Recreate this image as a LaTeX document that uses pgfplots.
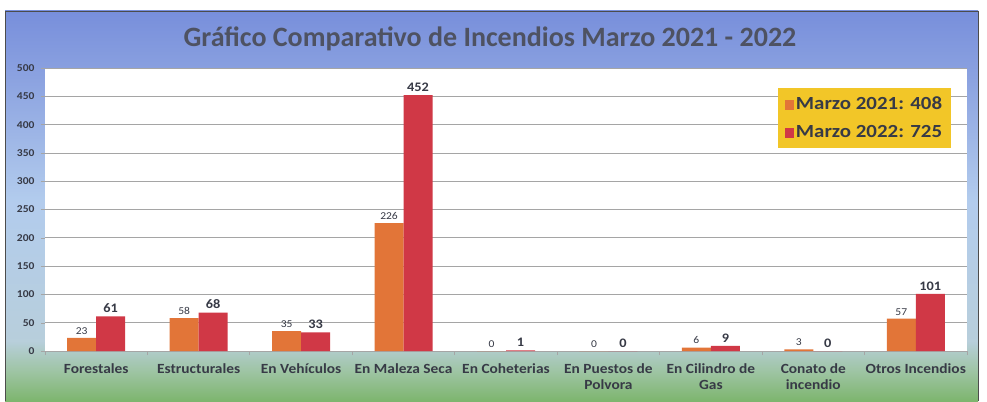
\documentclass[border=0pt]{standalone}
\usepackage{pgfplots}
\pgfplotsset{compat=1.18}
\usepackage{fontspec}
\setmainfont{Carlito}
\newfontfamily\sfont[FakeStretch=1.1]{Carlito}
\newfontfamily\lfont[FakeStretch=1.13]{Carlito}
\definecolor{c21}{RGB}{226,117,56}
\definecolor{c22}{RGB}{208,56,70}
\definecolor{txt}{RGB}{55,58,70}
\definecolor{legy}{RGB}{242,198,40}
\definecolor{gridc}{RGB}{165,165,165}
\pgfdeclareverticalshading{bgshade}{100bp}{
  rgb(0bp)=(0.49,0.71,0.43);
  rgb(25bp)=(0.49,0.71,0.43);
  rgb(28.8bp)=(0.62,0.77,0.64);
  rgb(32.7bp)=(0.72,0.81,0.86);
  rgb(50.6bp)=(0.70,0.80,0.93);
  rgb(66bp)=(0.55,0.64,0.88);
  rgb(75bp)=(0.47,0.56,0.86);
  rgb(100bp)=(0.47,0.56,0.86)}
\begin{document}
\begin{tikzpicture}[x=1pt,y=1pt]
\path (0,0) rectangle (987,401);
\shade[shading=bgshade] (5,0) rectangle (978,390);
\draw[black!70,line width=0.8pt] (5,0) -- (5,390) -- (978,390) -- (978,0);
\node[font=\bfseries\fontsize{28}{30}\selectfont, text={rgb,255:red,78;green,82;blue,98}] at (490,362) {Gráfico Comparativo de Incendios Marzo 2021 - 2022};
\begin{axis}[
  at={(45pt,50pt)}, anchor=south west,
  scale only axis, width=922pt, height=283pt,
  axis background/.style={fill=white},
  ybar=0pt, bar width=29pt,
  xmin=-0.5, xmax=8.5, ymin=0, ymax=500,
  ytick={0,50,...,500},
  xtick={0,...,8},
  xticklabels={Forestales,Estructurales,En Vehículos,En Maleza Seca,En Coheterias,En Puestos de\\Polvora,En Cilindro de\\Gas,Conato de\\incendio,Otros Incendios},
  minor xtick={-0.5,0.5,...,8.5},
  major x tick style={draw=none},
  minor x tick style={gridc, thick},
  minor tick length=4pt,
  tick align=outside,
  ytick style={gridc},
  major tick length=4pt,
  ymajorgrids, grid style={gridc, line width=0.7pt},
  axis x line*=bottom, axis y line*=left,
  x axis line style={gridc, line width=0.8pt},
  y axis line style={draw=none},
  /pgf/number format/assume math mode=true,
  xticklabel style={font=\sfont\bfseries\fontsize{14}{16}\selectfont, text=txt, align=center, yshift=-5pt},
  yticklabel style={font=\sfont\bfseries\fontsize{10.5}{11}\selectfont, text=txt, xshift=-3pt},
  legend style={at={(0.983,0.93)}, anchor=north east, fill=legy, draw=none, font=\lfont\bfseries\fontsize{18.5}{20}\selectfont, text=txt, inner xsep=7pt, inner ysep=7pt, row sep=10pt},
  legend cell align=left,
  legend image code/.code={\fill[#1] (2pt,-6pt) rectangle (11pt,4pt);},
  nodes near coords,
  enlarge x limits=false,
]
\addplot[fill=c21, draw=none, nodes near coords style={font=\sfont\fontsize{10.5}{11}\selectfont, text=txt}] coordinates {(0,23) (1,58) (2,35) (3,226) (4,0) (5,0) (6,6) (7,3) (8,57)};
\addplot[fill=c22, draw=none, nodes near coords style={font=\sfont\bfseries\fontsize{13}{14}\selectfont, text=txt}] coordinates {(0,61) (1,68) (2,33) (3,452) (4,1) (5,0) (6,9) (7,0) (8,101)};
\legend{Marzo 2021: 408, Marzo 2022: 725}
\end{axis}
\end{tikzpicture}
\end{document}
